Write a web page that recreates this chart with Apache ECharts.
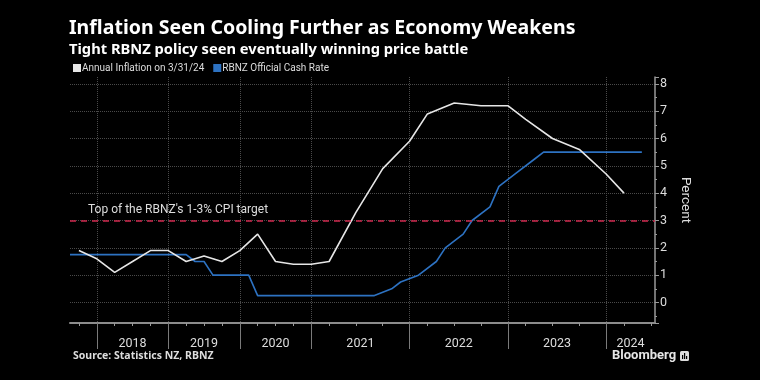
<!DOCTYPE html>
<html>
<head>
<meta charset="utf-8">
<script src="https://cdn.jsdelivr.net/npm/echarts@6/dist/echarts.min.js"></script>
<style>
html,body{margin:0;padding:0;background:#000;}
#chart{width:760px;height:380px;}
</style>
</head>
<body>
<div id="chart"></div>
<script>
// Observation calendar of the source table (RBNZ review dates + quarter ends)
const rowDates = [
  '2017-08-10','2017-09-30','2017-11-09','2017-12-31',
  '2018-02-08','2018-03-31','2018-05-10','2018-06-30','2018-08-09','2018-09-30','2018-11-08','2018-12-31',
  '2019-02-13','2019-03-31','2019-05-08','2019-06-30','2019-08-07','2019-09-30','2019-11-13','2019-12-31',
  '2020-02-12','2020-03-31','2020-05-13','2020-06-30','2020-08-12','2020-09-30','2020-11-11','2020-12-31',
  '2021-02-24','2021-03-31','2021-04-14','2021-05-26','2021-06-30','2021-07-14','2021-08-18','2021-09-30','2021-10-06','2021-11-24','2021-12-31',
  '2022-02-23','2022-03-31','2022-04-13','2022-05-25','2022-06-30','2022-07-13','2022-08-17','2022-09-30','2022-10-05','2022-11-23','2022-12-31',
  '2023-02-22','2023-03-31','2023-04-05','2023-05-24','2023-06-30','2023-07-12','2023-08-16','2023-09-30','2023-10-04','2023-11-29','2023-12-31',
  '2024-02-28','2024-03-31','2024-04-10','2024-05-22','2024-06-30'
];

// Annual inflation (quarterly, %)
const cpiDates = [
  '2017-09-30','2017-12-31',
  '2018-03-31','2018-06-30','2018-09-30','2018-12-31',
  '2019-03-31','2019-06-30','2019-09-30','2019-12-31',
  '2020-03-31','2020-06-30','2020-09-30','2020-12-31',
  '2021-03-31','2021-06-30','2021-09-30','2021-12-31',
  '2022-03-31','2022-06-30','2022-09-30','2022-12-31',
  '2023-03-31','2023-06-30','2023-09-30','2023-12-31',
  '2024-03-31'
];
const cpiValues = [
  1.9, 1.6,
  1.1, 1.5, 1.9, 1.9,
  1.5, 1.7, 1.5, 1.9,
  2.5, 1.5, 1.4, 1.4,
  1.5, 3.3, 4.9, 5.9,
  6.9, 7.3, 7.2, 7.2,
  6.7, 6.0, 5.6, 4.7,
  4.0
];

// RBNZ Official Cash Rate (%)
const ocrDates = [
  '2017-08-10','2019-03-31','2019-05-08','2019-06-30','2019-08-07','2020-02-12','2020-03-31',
  '2021-08-18','2021-10-06','2021-11-24','2022-02-23','2022-04-13','2022-05-25','2022-07-13',
  '2022-08-17','2022-10-05','2022-11-23','2023-02-22','2023-04-05','2023-05-24','2023-07-12',
  '2023-08-16','2023-10-04','2023-11-29','2024-02-28','2024-04-10','2024-05-22'
];
const ocrValues = [
  1.75, 1.75, 1.5, 1.5, 1.0, 1.0, 0.25,
  0.25, 0.5, 0.75, 1.0, 1.5, 2.0, 2.5,
  3.0, 3.5, 4.25, 4.75, 5.25, 5.5, 5.5,
  5.5, 5.5, 5.5, 5.5, 5.5, 5.5
];

const yearLabels = ['2018','2019','2020','2021','2022','2023','2024'];
const targetTop = 3;
const targetLabel = "Top of the RBNZ's 1-3% CPI target";
const seriesNames = ['Annual Inflation on 3/31/24', 'RBNZ Official Cash Rate'];

// ---- build from the arrays ----
const rowOf = d => rowDates.indexOf(d);
const axisEnd = rowDates.length - 1 + 0.47;
const yearEnds = rowDates.map((d, i) => d.endsWith('-12-31') ? i : -1).filter(i => i >= 0);
const quarterEnds = rowDates.map((d, i) => /-(03-31|06-30|09-30)$/.test(d) ? i : -1).filter(i => i >= 0);
const bounds = yearEnds.concat([axisEnd]);
const labelPos = [];
const labelText = {};
yearLabels.forEach((y, k) => {
  const p = (bounds[k] + bounds[k + 1]) / 2;
  labelPos.push(p);
  labelText[p.toFixed(3)] = y;
});

const cpiData = cpiDates.map((d, i) => [rowOf(d), cpiValues[i]]);
const ocrData = ocrDates.map((d, i) => [rowOf(d), ocrValues[i]]);

const FONT = 'Noto Sans';
const SMALL = 'Roboto';
const chart = echarts.init(document.getElementById('chart'), null, {renderer: 'canvas'});
chart.setOption({
  backgroundColor: '#000',
  animation: false,
  textStyle: {fontFamily: SMALL},
  title: {
    text: 'Inflation Seen Cooling Further as Economy Weakens',
    subtext: 'Tight RBNZ policy seen eventually winning price battle',
    left: 69, top: 18, padding: 0, itemGap: 4,
    textStyle: {color: '#ffffff', fontSize: 19.5, fontWeight: 'bold', fontFamily: FONT},
    subtextStyle: {color: '#ffffff', fontSize: 14.7, fontWeight: 'bold', fontFamily: FONT}
  },
  legend: {
    data: seriesNames,
    left: 73, top: 63, padding: 0,
    icon: 'rect', itemWidth: 8, itemHeight: 8, itemGap: 9,
    textStyle: {color: '#dddddd', fontSize: 10, fontFamily: SMALL, padding: [0, 0, 0, -4]}
  },
  grid: {left: 70, right: 105, top: 77, bottom: 57, containLabel: false},
  xAxis: [{
    type: 'value', min: 0, max: axisEnd, position: 'bottom',
    axisLine: {show: true, onZero: false, lineStyle: {color: '#8c8c8c', width: 2}},
    axisTick: {show: true, customValues: yearEnds, length: 26, lineStyle: {color: '#7a7a7a', width: 1}},
    axisLabel: {show: true, customValues: labelPos, margin: 14, color: '#dddddd', fontSize: 12.5, fontFamily: SMALL,
      formatter: v => labelText[Number(v).toFixed(3)] || ''},
    splitLine: {show: true, lineStyle: {color: '#4a4a4a', type: 'dotted', width: 1}}
  }, {
    type: 'value', min: 0, max: axisEnd, position: 'bottom',
    axisLine: {show: false, onZero: false},
    axisTick: {show: true, customValues: quarterEnds, length: 3, lineStyle: {color: '#9a9a9a', width: 1}},
    axisLabel: {show: false},
    splitLine: {show: false}
  }],
  yAxis: {
    type: 'value', position: 'right', min: -0.75, max: 8.25, splitNumber: 9,
    name: 'Percent', nameLocation: 'middle', nameGap: 22, nameRotate: -90,
    nameTextStyle: {color: '#dddddd', fontSize: 13.5, fontFamily: SMALL},
    axisLine: {show: true, onZero: false, lineStyle: {color: '#9a9a9a', width: 1.5}},
    axisTick: {show: true, length: 4, lineStyle: {color: '#9a9a9a'}},
    minorTick: {show: true, splitNumber: 2, length: 2, lineStyle: {color: '#9a9a9a'}},
    axisLabel: {color: '#dddddd', fontSize: 12.5, margin: 5, fontFamily: SMALL, showMinLabel: false, showMaxLabel: false,
      formatter: v => Number.isInteger(v) ? String(v) : ''},
    splitLine: {show: true, showMinLine: false, showMaxLine: false, lineStyle: {color: '#4a4a4a', type: 'dotted', width: 1}}
  },
  series: [{
    name: seriesNames[1], type: 'line', data: ocrData, showSymbol: false, symbol: 'none',
    color: '#2d72c2', lineStyle: {color: '#2d72c2', width: 1.6}, z: 2
  }, {
    name: seriesNames[0], type: 'line', data: cpiData, showSymbol: false, symbol: 'none',
    color: '#e6e6e6', lineStyle: {color: '#e6e6e6', width: 1.6}, z: 3,
    markLine: {
      silent: true, symbol: 'none',
      lineStyle: {color: '#d0284e', type: [6, 5], width: 1.5},
      label: {show: true, position: 'insideStartTop', formatter: targetLabel, color: '#dddddd', fontSize: 12,
        fontFamily: SMALL, distance: [18, 5]},
      data: [{yAxis: targetTop}]
    }
  }],
  graphic: [
    {type: 'text', left: 73, top: 351, style: {text: 'Source: Statistics NZ, RBNZ', fill: '#dddddd',
      font: 'bold 10.5px "Noto Sans"'}},
    {type: 'text', left: 612, top: 349, style: {text: 'Bloomberg', fill: '#e6e6e6',
      font: 'bold 13px Roboto'}},
    {type: 'group', left: 680, top: 351, children: [
      {type: 'rect', shape: {x: 0, y: 0, width: 9, height: 10, r: 1.5}, style: {fill: '#dddddd'}},
      {type: 'rect', shape: {x: 2, y: 4, width: 1.2, height: 4}, style: {fill: '#000'}},
      {type: 'rect', shape: {x: 4, y: 2, width: 1.2, height: 6}, style: {fill: '#000'}},
      {type: 'rect', shape: {x: 6, y: 5, width: 1.2, height: 3}, style: {fill: '#000'}}
    ]}
  ]
});
</script>
</body>
</html>
